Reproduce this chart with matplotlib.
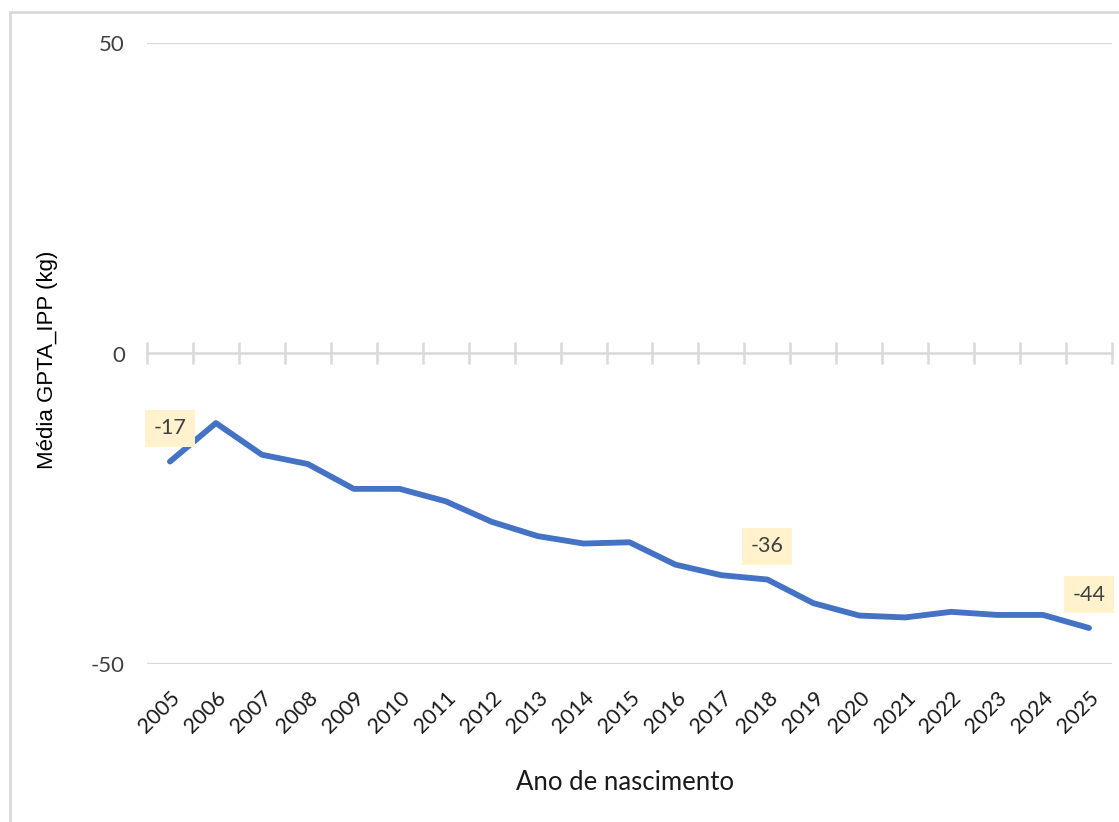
import matplotlib
matplotlib.use("Agg")
import matplotlib.pyplot as plt
from matplotlib.patches import Rectangle
import numpy as np

# data
anos = [str(a) for a in range(2005, 2026)]
media_gpta = [-17.4, -11.2, -16.3, -17.8, -21.8, -21.8, -23.8, -27.1, -29.4, -30.6,
              -30.4, -34.0, -35.7, -36.4, -40.2, -42.2, -42.5, -41.6, -42.1, -42.1,
              -44.2]
rotulos = ['2005', '2018', '2025']   # points with a data label
y_ticks = [-50, 0, 50]

LINE = '#4472c4'
GRID = '#d9d9d9'
TXT = '#404040'
FONT = ['Lato', 'DejaVu Sans']

fig = plt.figure(figsize=(11.19, 8.22), dpi=100)
ax = fig.add_axes([147 / 1119, 1 - 664 / 822, 965 / 1119, 621 / 822])

x = np.arange(len(anos))
ax.plot(x, media_gpta, color=LINE, linewidth=4.2, solid_capstyle='round',
        solid_joinstyle='round', zorder=3)

for ano in rotulos:
    i = anos.index(ano)
    ax.annotate(f'{media_gpta[i]:.0f}', (x[i], media_gpta[i]),
                textcoords='offset points', xytext=(0, 24),
                ha='center', va='center', fontsize=15.5, color=TXT, family=FONT,
                bbox=dict(boxstyle='square,pad=0.4', fc='#fff2cc', ec='none'),
                zorder=4)

ax.set_xlim(-0.5, len(anos) - 0.5)
ax.set_ylim(-50, 50)
ax.set_yticks(y_ticks)
ax.set_yticklabels([str(v) for v in y_ticks], fontsize=16, color=TXT, family=FONT)
ax.set_xticks(x)
ax.set_xticklabels(anos, rotation=45, ha='right', rotation_mode='anchor',
                   fontsize=15.5, color='#1a1a1a', family=FONT)
ax.tick_params(axis='both', length=0)
ax.tick_params(axis='y', pad=16)
ax.tick_params(axis='x', pad=17)
for s in ax.spines.values():
    s.set_visible(False)

# gridlines at +/-50
for v in (50, -50):
    ax.axhline(v, color=GRID, linewidth=1.6, zorder=1)

# horizontal category axis at y=0 with tick marks between categories
ax2 = ax.twiny()
ax2.set_xlim(ax.get_xlim())
ax2.spines['bottom'].set_position(('data', 0))
ax2.spines['bottom'].set_color(GRID)
ax2.spines['bottom'].set_linewidth(1.8)
for s in ('top', 'left', 'right'):
    ax2.spines[s].set_visible(False)
ax2.xaxis.set_ticks_position('bottom')
ax2.set_xticks(np.arange(-0.5, len(anos), 1.0))
ax2.set_xticklabels([])
ax2.tick_params(axis='x', direction='inout', length=16, width=1.8, color=GRID)
ax2.set_zorder(0)
ax.set_zorder(1)
ax.patch.set_visible(False)

fig.text(48 / 1119, 1 - 360 / 822, 'Média GPTA_IPP (kg)', rotation=90,
         ha='center', va='center', fontsize=16, color='black',
         family=['Liberation Sans', 'DejaVu Sans'])
fig.text(625 / 1119, 1 - 782 / 822, 'Ano de nascimento', ha='center', va='center',
         fontsize=18.5, color='#1a1a1a', family=FONT)

# chart area outline
fig.add_artist(Rectangle((10 / 1119, -0.01), 1.0, 1 - 12 / 822 + 0.01,
                         transform=fig.transFigure, fill=False, ec=GRID, lw=2))

fig.savefig('out.png', dpi=100)
